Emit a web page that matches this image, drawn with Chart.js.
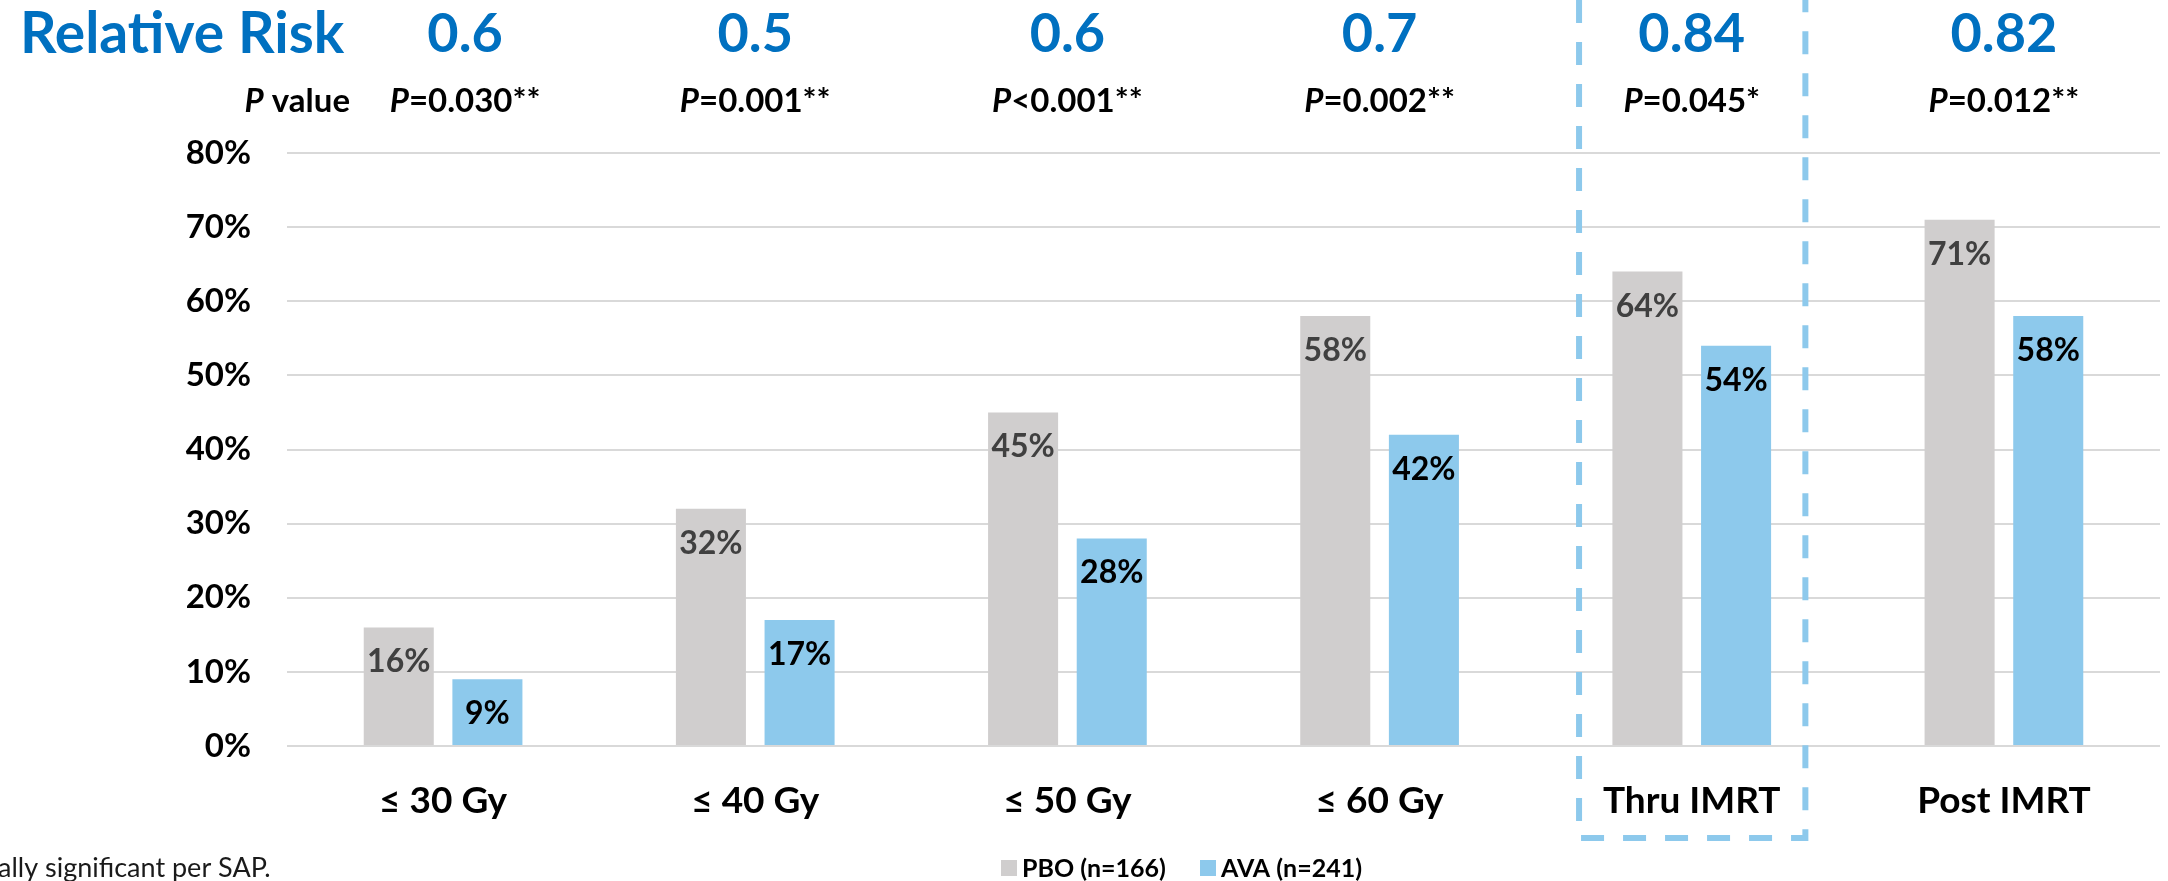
<!DOCTYPE html>
<html>
<head>
<meta charset="utf-8">
<title>Relative Risk by dose level</title>
<script src="https://cdn.jsdelivr.net/npm/chart.js@4.4.1/dist/chart.umd.min.js"></script>
<style>
  html, body { margin: 0; padding: 0; background: #ffffff; }
  #wrap { width: 2168px; height: 881px; position: relative; overflow: hidden; }
  canvas { display: block; }
</style>
</head>
<body>
<div id="wrap"><canvas id="chart" width="2168" height="881"></canvas></div>
<script>
// Dose levels along the x axis
const categories = ['≤ 30 Gy', '≤ 40 Gy', '≤ 50 Gy', '≤ 60 Gy', 'Thru IMRT', 'Post IMRT'];
// Incidence (%) per arm
const pboValues = [16, 32, 45, 58, 64, 71];
const avaValues = [9, 17, 28, 42, 54, 58];
// Header rows per category
const relativeRisk = ['0.6', '0.5', '0.6', '0.7', '0.84', '0.82'];
const pValueText = ['=0.030**', '=0.001**', '<0.001**', '=0.002**', '=0.045*', '=0.012**'];
// Y axis ticks (%)
const yTicks = [0, 10, 20, 30, 40, 50, 60, 70, 80];
// Legend entries
const seriesNames = ['PBO (n=166)', 'AVA (n=241)'];
const highlightIndex = 4;

const FONT = 'Lato, "Open Sans", "Liberation Sans", sans-serif';
const BLUE_TEXT = '#0070C0';
const PBO_COLOR = '#D0CECE';
const AVA_COLOR = '#8DC9EC';
const BOX_COLOR = '#8DC9EC';

// Value labels inside the top of each bar
const barLabels = {
  id: 'barLabels',
  afterDatasetsDraw(chart) {
    const ctx = chart.ctx;
    ctx.save();
    ctx.font = 'bold 32px ' + FONT;
    ctx.textAlign = 'center';
    ctx.textBaseline = 'alphabetic';
    chart.data.datasets.forEach((ds, di) => {
      const meta = chart.getDatasetMeta(di);
      ctx.fillStyle = di === 0 ? '#404040' : '#000000';
      meta.data.forEach((bar, i) => {
        ctx.fillText(Math.round(ds.data[i]) + '%', bar.x, bar.y + 45);
      });
    });
    ctx.restore();
  }
};

// Header rows, highlight box, legend and footnote
const decorations = {
  id: 'decorations',
  afterDraw(chart) {
    const ctx = chart.ctx;
    const x = chart.scales.x;
    const catW = (x.right - x.left) / categories.length;
    // the first header column sits a little right of its bars
    const headerX = i => x.getPixelForValue(i) + (i === 0 ? 22 : 0);
    ctx.save();

    // Relative risk row
    ctx.fillStyle = BLUE_TEXT;
    ctx.textBaseline = 'alphabetic';
    ctx.textAlign = 'left';
    ctx.font = 'bold 57px ' + FONT;
    ctx.fillText('Relative Risk', 20, 53);
    ctx.font = 'bold 54px ' + FONT;
    ctx.textAlign = 'center';
    relativeRisk.forEach((rr, i) => {
      ctx.fillText(rr, headerX(i), 52);
    });

    // P value row (italic P followed by the value)
    ctx.fillStyle = '#000000';
    const italic = 'italic bold 33px ' + FONT;
    const upright = 'bold 33px ' + FONT;
    const drawP = (rest, cx, align) => {
      ctx.font = italic;
      const wP = ctx.measureText('P').width;
      ctx.font = upright;
      const wR = ctx.measureText(rest).width;
      const left = align === 'right' ? cx - wP - wR : cx - (wP + wR) / 2;
      ctx.textAlign = 'left';
      ctx.font = italic;
      ctx.fillText('P', left, 112);
      ctx.font = upright;
      ctx.fillText(rest, left + wP, 112);
    };
    drawP(' value', 350, 'right');
    pValueText.forEach((t, i) => drawP(t, headerX(i), 'center'));

    // Dashed box around the highlighted category
    const cx = x.getPixelForValue(highlightIndex);
    const bl = cx - 0.361 * catW;
    const br = cx + 0.364 * catW;
    const bb = 838;
    ctx.strokeStyle = BOX_COLOR;
    ctx.lineWidth = 6;
    ctx.setLineDash([23, 19]);
    ctx.lineDashOffset = 30;
    ctx.beginPath();
    ctx.moveTo(bl, -12);
    ctx.lineTo(bl, bb);
    ctx.lineTo(br, bb);
    ctx.lineTo(br, -12);
    ctx.stroke();
    ctx.setLineDash([]);

    // Legend
    const colors = [PBO_COLOR, AVA_COLOR];
    const legX = [1001, 1200];
    ctx.font = 'bold 25px ' + FONT;
    ctx.textAlign = 'left';
    seriesNames.forEach((name, i) => {
      ctx.fillStyle = colors[i];
      ctx.fillRect(legX[i], 860, 16, 16);
      ctx.fillStyle = '#000000';
      ctx.fillText(name, legX[i] + 21, 877);
    });

    // Footnote (runs off the left edge)
    ctx.font = '27px ' + FONT;
    ctx.fillStyle = '#1a1a1a';
    const note = '*Nominally significant; **Statistically significant per SAP.';
    const hidden = '*Nominally significant; **Statistic';
    ctx.fillText(note, -ctx.measureText(hidden).width - 2, 877);

    ctx.restore();
  }
};

function draw() {
  new Chart(document.getElementById('chart'), {
    type: 'bar',
    data: {
      labels: categories,
      datasets: [
        { label: seriesNames[0], data: pboValues, backgroundColor: PBO_COLOR, borderWidth: 0,
          barPercentage: 0.79, categoryPercentage: 0.568 },
        { label: seriesNames[1], data: avaValues, backgroundColor: AVA_COLOR, borderWidth: 0,
          barPercentage: 0.79, categoryPercentage: 0.568 }
      ]
    },
    options: {
      responsive: false,
      animation: false,
      devicePixelRatio: 1,
      layout: { padding: { top: 153, right: 8, bottom: 0, left: 0 } },
      plugins: {
        legend: { display: false },
        tooltip: { enabled: false },
        title: { display: false }
      },
      scales: {
        x: {
          grid: { display: false, drawTicks: false },
          border: { display: false },
          ticks: {
            color: '#000000',
            font: { family: FONT, size: 37, weight: 'bold' },
            padding: 33,
            maxRotation: 0,
            autoSkip: false
          },
          afterFit(scale) { scale.height = 135; }
        },
        y: {
          min: 0,
          max: 80,
          afterBuildTicks(scale) { scale.ticks = yTicks.map(v => ({ value: v })); },
          grid: { color: '#D9D9D9', lineWidth: 2, drawTicks: false },
          border: { display: false },
          ticks: {
            color: '#000000',
            font: { family: FONT, size: 33, weight: 'bold' },
            padding: 36,
            callback: v => v + '%'
          },
          afterFit(scale) { scale.width = 287; }
        }
      }
    },
    plugins: [barLabels, decorations]
  });
}

if (document.fonts && document.fonts.load) {
  Promise.all([
    document.fonts.load('bold 37px Lato'),
    document.fonts.load('italic bold 33px Lato'),
    document.fonts.load('27px Lato')
  ]).then(draw, draw);
} else {
  draw();
}
</script>
</body>
</html>
